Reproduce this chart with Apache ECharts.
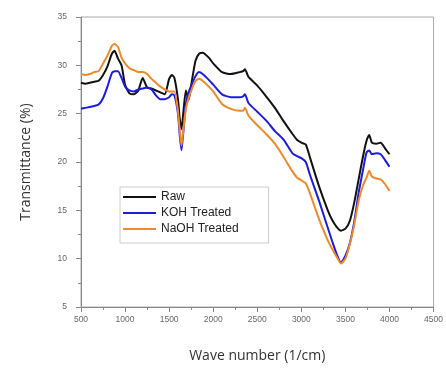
<!DOCTYPE html>
<html>
<head>
<meta charset="utf-8">
<script src="https://cdn.jsdelivr.net/npm/echarts@6/dist/echarts.min.js"></script>
<style>
html,body{margin:0;padding:0;background:#fff;}
#chart{width:446px;height:368px;}
</style>
</head>
<body>
<div id="chart"></div>
<script>
var wavenumbers = [500,550,600,650,700,750,800,850,880,920,960,1000,1050,1100,1150,1200,1250,1300,1350,1400,1450,1500,1530,1560,1600,1620,1640,1660,1690,1720,1760,1800,1840,1880,1950,2000,2100,2200,2300,2340,2360,2400,2500,2600,2700,2800,2900,2950,3000,3050,3100,3200,3300,3350,3400,3450,3500,3550,3600,3650,3700,3740,3770,3800,3850,3900,3950,4000];
var rawValues = [28.2,28.1,28.2,28.3,28.4,29.0,29.9,31.2,31.5,30.7,30.0,28.0,27.1,27.0,27.4,28.7,27.7,27.6,27.4,27.2,27.0,28.6,29.0,28.7,26.5,24.5,23.4,25.0,27.4,26.4,28.5,30.5,31.2,31.3,30.8,30.2,29.3,29.1,29.3,29.4,29.6,28.8,27.9,26.8,25.6,24.2,22.9,22.3,22.0,21.8,20.4,17.5,15.0,14.0,13.3,12.9,13.1,13.9,15.8,18.2,20.6,22.2,22.8,22.0,21.9,22.0,21.4,20.8];
var kohValues = [25.5,25.6,25.7,25.8,25.95,26.6,27.8,29.2,29.4,29.4,28.7,27.8,27.4,27.3,27.5,27.6,27.7,27.5,26.9,26.5,26.5,26.7,27.0,26.9,25.0,22.8,21.2,23.0,26.0,27.2,28.1,28.9,29.3,29.1,28.5,28.0,27.0,26.7,26.7,26.8,27.0,26.1,25.2,24.3,23.2,22.3,20.9,20.6,20.4,20.0,18.6,16.0,13.2,11.8,10.5,9.6,10.3,11.6,13.8,16.8,19.2,21.0,21.2,20.8,20.9,20.8,20.2,19.5];
var naohValues = [29.1,29.0,29.1,29.3,29.4,30.2,31.0,32.0,32.2,31.9,30.8,30.2,29.7,29.5,29.3,29.3,29.1,28.6,28.2,27.8,27.5,27.3,27.3,27.3,25.3,23.3,21.7,23.2,25.5,26.6,27.6,28.4,28.6,28.4,27.8,27.3,26.0,25.5,25.3,25.3,25.6,24.8,23.8,22.9,21.9,20.5,19.0,18.4,18.1,17.8,16.7,14.1,11.9,11.0,10.2,9.5,10.0,11.5,13.5,16.0,17.6,18.4,19.1,18.5,18.3,18.2,17.7,17.0];
var seriesNames = ['Raw','KOH Treated','NaOH Treated'];
var xTitle = 'Wave number (1/cm)';
var yTitle = 'Transmittance (%)';

function pairs(vals){ return wavenumbers.map(function(x,i){return [x, vals[i]];}); }

var chart = echarts.init(document.getElementById('chart'), null, {renderer:'canvas'});
var axisGray = '#888';
var labelFont = {color:'#666', fontSize:8.5, fontFamily:'Liberation Sans, Arial, sans-serif', formatter:function(v){return String(v);}};
chart.setOption({
  animation:false,
  backgroundColor:'#fff',
  grid:{left:81,right:5,top:17,bottom:59,show:true,borderColor:'#aaa',borderWidth:1,backgroundColor:'transparent'},
  legend:{
    orient:'vertical', left:120, top:187,
    padding:[4,30,8,3], itemGap:4, itemWidth:33, itemHeight:2, itemTextGap:4,
    icon:'rect',
    borderColor:'#ccc', borderWidth:1, backgroundColor:'#fff',
    textStyle:{color:'#222', fontSize:12, fontFamily:'Liberation Sans, Arial, sans-serif', padding:[0,0,5,0]},
    data:seriesNames
  },
  xAxis:{
    type:'value', min:500, max:4500, interval:500,
    name:xTitle, nameLocation:'middle', nameGap:42,
    nameTextStyle:{color:'#333', fontSize:14, fontFamily:'Open Sans, sans-serif'},
    axisLine:{show:true,lineStyle:{color:axisGray,width:1}},
    axisTick:{show:true,length:5,lineStyle:{color:axisGray}},
    minorTick:{show:true,splitNumber:2,length:3,lineStyle:{color:axisGray}},
    axisLabel:Object.assign({margin:8}, labelFont),
    splitLine:{show:false}
  },
  yAxis:{
    type:'value', min:5, max:35, interval:5,
    name:yTitle, nameLocation:'middle', nameGap:48,
    nameTextStyle:{color:'#333', fontSize:14, fontFamily:'Open Sans, sans-serif'},
    axisLine:{show:true,lineStyle:{color:axisGray,width:1}},
    axisTick:{show:true,length:5,lineStyle:{color:axisGray}},
    minorTick:{show:true,splitNumber:2,length:3,lineStyle:{color:axisGray}},
    axisLabel:Object.assign({margin:14}, labelFont),
    splitLine:{show:false}
  },
  series:[
    {name:seriesNames[0], type:'line', data:pairs(rawValues), symbol:'none', smooth:0.2, color:'#111', lineStyle:{color:'#111',width:2}},
    {name:seriesNames[1], type:'line', data:pairs(kohValues), symbol:'none', smooth:0.2, color:'#1c1ce0', lineStyle:{color:'#1c1ce0',width:2}},
    {name:seriesNames[2], type:'line', data:pairs(naohValues), symbol:'none', smooth:0.2, color:'#f0892a', lineStyle:{color:'#f0892a',width:2}}
  ]
});
</script>
</body>
</html>
